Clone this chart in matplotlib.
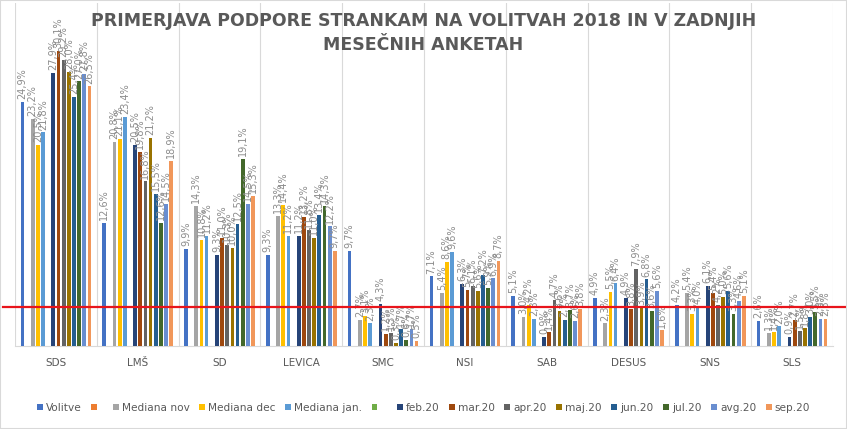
import matplotlib
matplotlib.use("Agg")
import matplotlib.pyplot as plt
from matplotlib.patches import Rectangle, Patch
from matplotlib.lines import Line2D
import matplotlib.transforms as mtransforms
import numpy as np

categories = ["SDS", "LMŠ", "SD", "LEVICA", "SMC", "NSI", "SAB", "DESUS", "SNS", "SLS"]

series_names = ["Volitve", " ", "Mediana nov", "Mediana dec", "Mediana jan.", "  ",
                "feb.20", "mar.20", "apr.20", "maj.20", "jun.20", "jul.20", "avg.20", "sep.20"]

volitve     = [24.9, 12.6, 9.9, 9.3, 9.7, 7.1, 5.1, 4.9, 4.2, 2.6]
empty_a     = [None] * 10
mediana_nov = [23.2, 20.8, 14.3, 13.3, 2.7, 5.4, 3.0, 2.3, 5.4, 1.3]
mediana_dec = [20.5, 21.1, 10.8, 14.4, 3.1, 8.6, 4.2, 5.5, 3.3, 1.4]
mediana_jan = [21.8, 23.4, 11.2, 11.2, 2.3, 9.6, 2.8, 6.4, 4.0, 2.0]
empty_b     = [None] * 10
feb20 = [27.9, 20.5, 9.3, 11.2, 4.3, 6.3, 0.9, 4.9, 6.1, 0.9]
mar20 = [30.1, 19.8, 11.0, 13.2, 1.2, 5.7, 1.4, 3.8, 5.4, 2.7]
apr20 = [29.2, 16.8, 10.3, 11.8, 1.3, 6.1, 4.7, 7.9, 4.2, 1.5]
maj20 = [28.0, 21.2, 10.0, 11.0, 0.3, 5.6, 3.6, 3.9, 5.0, 1.8]
jun20 = [25.4, 15.5, 12.5, 13.4, 1.7, 7.2, 2.7, 6.8, 5.6, 3.0]
jul20 = [27.0, 12.6, 19.1, 14.3, 0.6, 5.9, 3.7, 3.6, 3.3, 3.5]
avg20 = [27.8, 14.5, 14.5, 12.2, 1.7, 6.9, 2.6, 5.6, 4.6, 2.8]
sep20 = [26.5, 18.9, 15.3, 9.7, 0.5, 8.7, 3.8, 1.6, 5.1, 2.8]

threshold = 4.0

series_values = [volitve, empty_a, mediana_nov, mediana_dec, mediana_jan, empty_b,
                 feb20, mar20, apr20, maj20, jun20, jul20, avg20, sep20]
colors = ["#4472C4", "#ED7D31", "#A5A5A5", "#FFC000", "#5B9BD5", "#70AD47",
          "#264478", "#9E480E", "#636363", "#997300", "#255E91", "#43682B",
          "#698ED0", "#F1975A"]

fig = plt.figure(figsize=(8.47, 4.29), dpi=100)
ax = fig.add_axes([15/847, 83/429, 818/847, 343/429])

x = np.arange(len(categories))
pitch = 0.063
bw = 0.046
n = len(series_values)
handles = []
for i, (vals, col) in enumerate(zip(series_values, colors)):
    off = (i - (n - 1) / 2) * pitch
    xs = [xi + off for xi, v in zip(x, vals) if v is not None]
    hs = [v for v in vals if v is not None]
    if hs:
        bars = ax.bar(xs, hs, width=bw, color=col, zorder=3)
        for b, v in zip(bars, hs):
            ax.annotate(f"{v:.1f}%".replace(".", ","),
                        (b.get_x() + b.get_width() / 2, b.get_height()),
                        xytext=(0, 2), textcoords="offset points",
                        rotation=90, ha="center", va="bottom",
                        fontsize=7, color="#8C8C8C", zorder=4)
    handles.append(Patch(facecolor=col, edgecolor="none"))

ax.set_xlim(-0.5, len(categories) - 0.5)
ax.set_ylim(0, 35)
for b in np.arange(-0.5, len(categories), 1.0):
    ax.axvline(b, color="#D9D9D9", lw=0.8, zorder=1)
ax.set_yticks([])
ax.set_xticks(x)
ax.set_xticklabels(categories, fontsize=7.5, color="#595959")
ax.tick_params(axis="x", length=0, pad=9)
for s in ["top", "left", "right"]:
    ax.spines[s].set_visible(False)
ax.spines["bottom"].set_color("#D9D9D9")

# threshold line across the whole chart
trans = mtransforms.blended_transform_factory(fig.transFigure, ax.transData)
ax.add_line(Line2D([0.004, 0.998], [threshold, threshold], transform=trans,
                   color="#E8141B", lw=1.6, zorder=6, clip_on=False))

fig.text(0.5, 1 - 33/429,
         "PRIMERJAVA PODPORE STRANKAM NA VOLITVAH 2018 IN V ZADNJIH\nMESEČNIH ANKETAH",
         ha="center", va="center", fontsize=12.5, fontweight="bold",
         color="#595959", linespacing=1.5)

fig.legend(handles, series_names, loc="center", bbox_to_anchor=(0.5, 1 - 408/429),
           ncol=n, frameon=False, fontsize=7.6, handlelength=0.55, handleheight=0.55,
           handletextpad=0.3, columnspacing=0.9, labelcolor="#595959")

fig.add_artist(Rectangle((0, 0), 1, 1, transform=fig.transFigure, fill=False,
                         edgecolor="#D9D9D9", lw=1.5))

fig.savefig("out.png", dpi=100)
